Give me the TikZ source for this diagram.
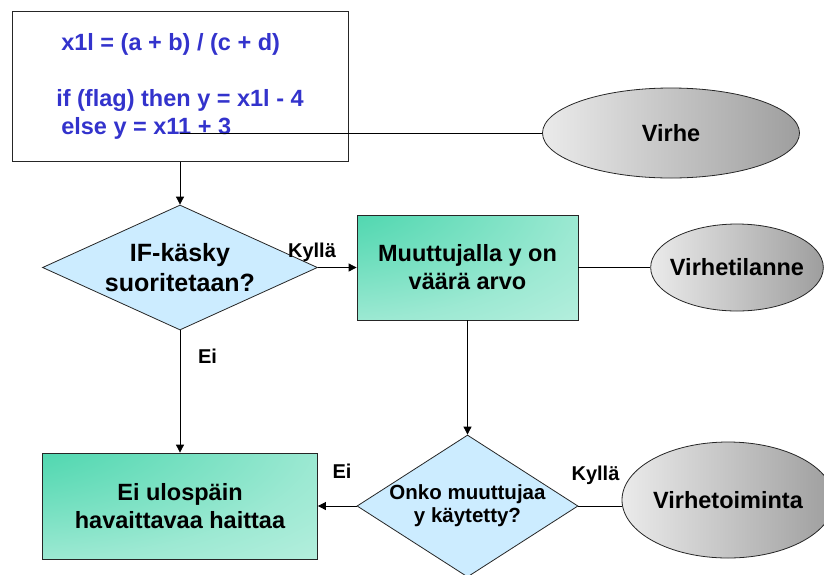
\documentclass[tikz,border=0pt]{standalone}
\usepackage{fontspec}
\setmainfont{Liberation Sans}
\usetikzlibrary{shapes.geometric,arrows.meta}
\definecolor{codeblue}{RGB}{51,51,204}
\definecolor{askblue}{RGB}{204,236,255}
\definecolor{mintdark}{RGB}{24,202,150}
\definecolor{mintlight}{RGB}{208,245,234}
\pgfdeclareradialshading{mintglow}{\pgfpoint{-45bp}{45bp}}{color(0bp)=(mintdark); color(15bp)=(mintdark!75!mintlight); color(55bp)=(mintdark!28!mintlight); color(90bp)=(mintlight); color(160bp)=(mintlight)}
\begin{document}
\begin{tikzpicture}[x=1pt,y=-1pt,
every node/.style={font=\bfseries\fontsize{23.5}{28}\selectfont},
codebox/.style={draw=black!85, line width=1pt, rectangle, minimum width=336pt, minimum height=150pt, align=left, text=codeblue},
askbox/.style={draw=black!85, line width=0.8pt, diamond, fill=askblue, inner sep=0pt, align=center},
actbox/.style={draw=black!85, line width=0.8pt, rectangle, shade, shading=mintglow, align=center},
errbox/.style={draw=black!85, line width=0.8pt, ellipse, inner sep=-6pt, left color=black!8, right color=black!38},
answer/.style={font=\bfseries\fontsize{20}{23}\selectfont, anchor=base},
flow/.style={-{Triangle[length=8pt,width=8pt]}, line width=0.8pt}
]
\useasboundingbox (0,0) rectangle (824,574);
\node[codebox] (code) at (180,86) {\hspace{5pt}x1l = (a + b) / (c + d)\\[28pt]if (flag) then y = x1l - 4\\\hspace{5pt}else y = x11 + 3};
\node[errbox, minimum width=257pt, minimum height=90pt] (virhe) at (671,133) {Virhe};
\node[askbox, minimum width=275pt, minimum height=125pt, aspect=2.2, font=\bfseries\fontsize{25}{30}\selectfont] (if1) at (180,267.5) {IF-käsky\\suoritetaan?};
\node[actbox, minimum width=221pt, minimum height=105pt] (wrong) at (467.5,267.5) {Muuttujalla y on\\väärä arvo};
\node[errbox, minimum width=171pt, minimum height=87pt] (state) at (737,267.5) {Virhetilanne};
\node[actbox, minimum width=275pt, minimum height=106pt] (harm) at (180,506) {Ei ulospäin\\havaittavaa haittaa};
\node[askbox, minimum width=221pt, minimum height=142pt, aspect=1.55, inner xsep=-8pt, font=\bfseries\fontsize{20.5}{23}\selectfont] (if2) at (467.5,506) {Onko muuttujaa\\y käytetty?};
\node[errbox, minimum width=212pt, minimum height=116pt] (action) at (728,500) {Virhetoiminta};
\coordinate (tail) at (180,133);
% yhteydet
\draw[line width=0.8pt] (tail) -- (virhe.west);
\draw[flow] (code.south) -- (if1.north);
\draw[flow] (if1.east) -- (wrong.west);
\draw[line width=0.8pt] (wrong.east) -- (state.west);
\draw[flow] (wrong.south) -- (if2.north);
\draw[flow] (if1.south) -- (harm.north);
\draw[flow] (if2.west) -- (harm.east);
\draw[line width=0.8pt] (if2.east) -- (if2.east -| action.west);
% vastaukset
\node[answer] (yes1) at (312,257) {Kyllä};
\node[answer] (no1) at (207.5,363) {Ei};
\node[answer] (no2) at (342,478) {Ei};
\node[answer] (yes2) at (595.5,480) {Kyllä};
\end{tikzpicture}
\end{document}
